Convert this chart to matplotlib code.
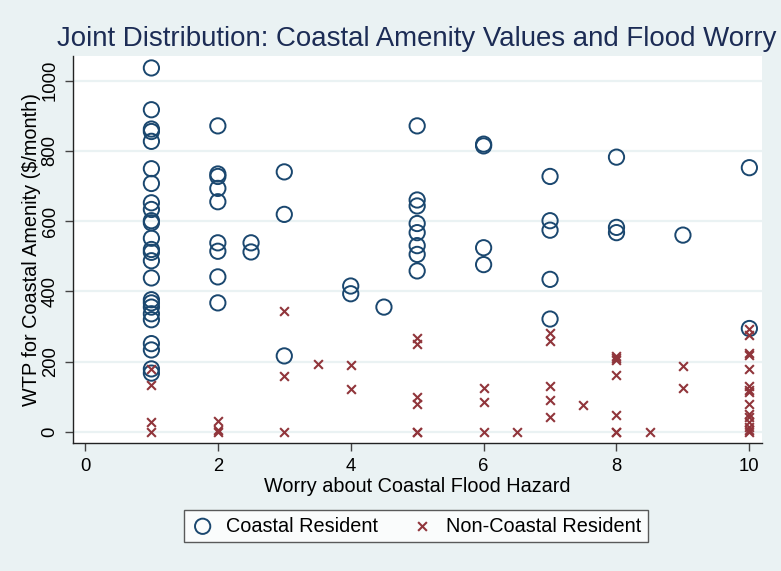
import matplotlib
matplotlib.use("Agg")
import matplotlib.pyplot as plt

plt.rcParams['font.family'] = ['Liberation Sans', 'DejaVu Sans']

# Coastal residents (circles)
coastal_worry = ([1] * 25 + [2] * 9 + [2.5] * 2 + [3] * 3 + [4] * 2 + [4.5] +
                 [5] * 8 + [6] * 4 + [7] * 5 + [8] * 3 + [9] + [10] * 2)
coastal_wtp = [1036, 917, 862, 855, 827, 749, 707, 652, 633, 601, 595, 551, 519,
               511, 487, 438, 376, 367, 355, 336, 319, 251, 233, 179, 167,
               871, 734, 727, 693, 655, 538, 514, 441, 367,
               538, 512,
               740, 619, 216,
               415, 393,
               355,
               871, 660, 643, 593, 567, 530, 505, 458,
               819, 814, 524, 476,
               727, 601, 574, 434, 321,
               782, 582, 567,
               560,
               752, 294]

# Non-coastal residents (crosses)
noncoastal_worry = ([1] * 4 + [2] * 3 + [3] * 3 + [3.5] + [4] * 2 + [5] * 6 +
                    [6] * 3 + [6.5] + [7] * 5 + [7.5] + [8] * 7 + [8.5] +
                    [9] * 2 + [10] * 15)
noncoastal_wtp = [179, 133, 27, 0,
                  31, 5, 0,
                  343, 158, 0,
                  193,
                  190, 122,
                  268, 251, 98, 79, 0, 0,
                  125, 84, 0,
                  0,
                  281, 258, 130, 90, 43,
                  76,
                  217, 210, 203, 163, 48, 0, 0,
                  0,
                  186, 124,
                  292, 276, 225, 219, 178, 130, 120, 114, 79, 52, 43, 27, 14, 5, 0]

x_ticks = [0, 2, 4, 6, 8, 10]
y_ticks = [0, 200, 400, 600, 800, 1000]

title = "Joint Distribution: Coastal Amenity Values and Flood Worry"
xlabel = "Worry about Coastal Flood Hazard"
ylabel = "WTP for Coastal Amenity ($/month)"
labels = ["Coastal Resident", "Non-Coastal Resident"]

BG = "#eaf2f3"
NAVY = "#1a476f"
MAROON = "#90353b"

W, H = 781, 571
fig = plt.figure(figsize=(W / 100, H / 100), dpi=100, facecolor=BG)
ax_left, ax_right, ax_top, ax_bottom = 73, 762, 56, 443
ax = fig.add_axes([ax_left / W, 1 - ax_bottom / H,
                   (ax_right - ax_left) / W, (ax_bottom - ax_top) / H])
ax.set_facecolor("white")

ax.scatter(coastal_worry, coastal_wtp, s=11 ** 2, facecolors="none",
           edgecolors=NAVY, linewidths=1.4, label=labels[0], zorder=3)
ax.scatter(noncoastal_worry, noncoastal_wtp, s=6.3 ** 2, marker="x",
           color=MAROON, linewidths=1.5, label=labels[1], zorder=3)

ax.set_xlim(-0.18, 10.19)
ax.set_ylim(-32, 1070)
ax.set_xticks(x_ticks)
ax.set_yticks(y_ticks)
ax.grid(axis="y", color=BG, linewidth=1.6, zorder=0)
ax.set_axisbelow(True)

for s in ["top", "right"]:
    ax.spines[s].set_visible(False)
for s in ["left", "bottom"]:
    ax.spines[s].set_color("#222222")
    ax.spines[s].set_linewidth(1.0)

ax.tick_params(axis="both", direction="out", length=6, width=1.0,
               color="#444444", labelsize=13.3, labelcolor="black", pad=5)
ax.tick_params(axis="y", labelrotation=90, pad=4.3)
for lab in ax.get_yticklabels():
    lab.set_va("center")

ax.set_xlabel(xlabel, fontsize=14.3, labelpad=1)
ax.set_ylabel(ylabel, fontsize=14.3)
ax.yaxis.set_label_coords((31.5 - ax_left) / (ax_right - ax_left), 0.5)
ax.yaxis.label.set_va("center")

fig.text(417 / W, 1 - 39 / H, title, ha="center", va="center",
         fontsize=19.9, color="#1c2c55")

leg = fig.legend(loc="center", bbox_to_anchor=(416 / W, 1 - 526 / H),
                 ncol=2, fontsize=14.3, frameon=True, fancybox=False,
                 edgecolor="#333333", facecolor="white", handletextpad=0.6,
                 columnspacing=1.6, borderpad=0.35, handlelength=1.2)
leg.get_frame().set_linewidth(1.0)

fig.savefig("out.png", dpi=100, facecolor=BG)
